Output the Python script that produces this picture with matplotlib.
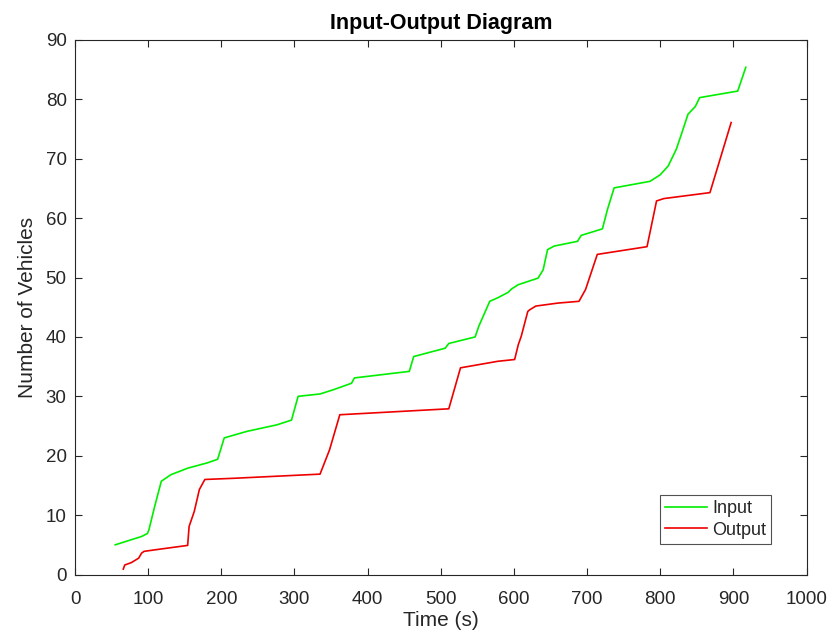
import matplotlib
matplotlib.use("Agg")
import matplotlib.pyplot as plt

# Data
input_t = [55, 73, 91, 99, 101, 109, 118, 131, 154, 181, 195, 204, 235, 276, 296,
           305, 335, 353, 378, 382, 457, 463, 506, 511, 547, 552, 567, 578, 592,
           597, 606, 633, 640, 646, 655, 687, 692, 721, 728, 737, 786, 800, 811,
           822, 830, 838, 848, 854, 906, 917]
input_n = [5.0, 5.7, 6.4, 6.9, 7.5, 11.5, 15.7, 16.8, 17.9, 18.8, 19.4, 23.0, 24.1,
           25.2, 26.0, 30.0, 30.4, 31.1, 32.2, 33.1, 34.2, 36.7, 38.1, 38.9, 40.0,
           41.8, 46.0, 46.6, 47.5, 48.1, 48.8, 49.9, 51.3, 54.7, 55.3, 56.1, 57.1,
           58.2, 61.5, 65.1, 66.2, 67.3, 68.8, 71.6, 74.5, 77.5, 78.8, 80.3, 81.4, 85.4]

output_t = [66, 68, 77, 87, 91, 94.5, 118, 154, 156, 163, 170, 177.5, 217, 335, 348,
            362, 511, 527, 578, 601, 606, 610, 619, 622, 630, 660, 689, 698, 714,
            782, 795, 805, 868, 897]
output_n = [0.9, 1.6, 2.0, 2.75, 3.6, 3.9, 4.3, 4.9, 8.1, 10.6, 14.3, 16.0, 16.2,
            16.9, 21.0, 26.9, 27.9, 34.8, 35.9, 36.2, 38.7, 40.1, 44.3, 44.6, 45.2,
            45.7, 46.0, 48.0, 53.9, 55.2, 62.9, 63.3, 64.3, 76.1]

x_ticks = list(range(0, 1001, 100))
y_ticks = list(range(0, 91, 10))

plt.rcParams['font.family'] = ['Liberation Sans', 'DejaVu Sans']
ink = '#262626'

fig = plt.figure(figsize=(8.3, 6.41), dpi=100)
ax = fig.add_axes([75 / 830, 1 - 574.5 / 641, (806.5 - 75) / 830, (574.5 - 40) / 641])

ax.plot(input_t, input_n, color='#00ee00', lw=1.2, label='Input')
ax.plot(output_t, output_n, color='#ee0000', lw=1.2, label='Output')

ax.set_xlim(0, 1000)
ax.set_ylim(0, 90)
ax.set_xticks(x_ticks)
ax.set_yticks(y_ticks)
ax.tick_params(direction='in', length=5, width=0.8, colors=ink, labelsize=13.5,
               top=True, right=True)
ax.tick_params(axis='x', pad=12)
ax.tick_params(axis='y', pad=6)
for s in ax.spines.values():
    s.set_color(ink)
    s.set_linewidth(0.8)

ax.set_xlabel('Time (s)', fontsize=15, color=ink, labelpad=2)
ax.set_ylabel('Number of Vehicles', fontsize=15, color=ink, labelpad=6)
ax.set_title('Input-Output Diagram', fontsize=15.5, fontweight='bold', color='black', pad=8)

leg = ax.legend(loc='lower right', bbox_to_anchor=(0.952, 0.057), fontsize=13,
                frameon=True, fancybox=False, edgecolor=ink, handlelength=2.3,
                borderpad=0.3, labelspacing=0.25, handletextpad=0.3, borderaxespad=0)
leg.get_frame().set_linewidth(0.8)
for t in leg.get_texts():
    t.set_color(ink)

fig.savefig('out.png', dpi=100)
